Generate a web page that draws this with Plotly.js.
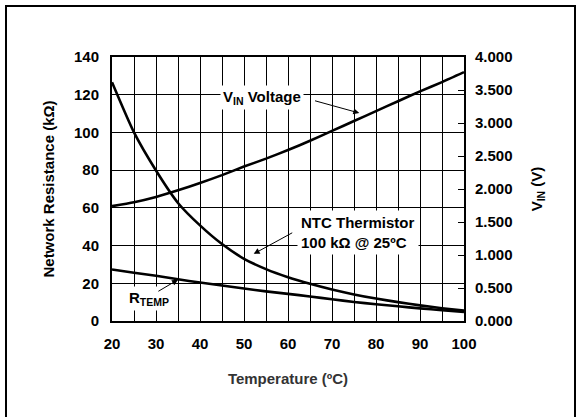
<!DOCTYPE html>
<html>
<head>
<meta charset="utf-8">
<script src="https://cdn.plot.ly/plotly-3.0.1.min.js"></script>
<style>
  html, body { margin: 0; padding: 0; background: #fff; }
  #wrap { position: relative; width: 579px; height: 417px; overflow: hidden; }
  #chart { position: absolute; left: 0; top: 0; width: 579px; height: 417px; }
  #frame { position: absolute; left: 5px; top: 5px; width: 567px; height: 430px;
           border: 2px solid #000; pointer-events: none; }
</style>
</head>
<body>
<div id="wrap">
  <div id="chart"></div>
  <div id="frame"></div>
</div>
<script>
// Temperature (ºC)
const temperature = [20, 25, 30, 35, 40, 45, 50, 55, 60, 65, 70, 75, 80, 85, 90, 95, 100];
// NTC thermistor resistance (kΩ)
const ntcResistance = [126.6, 100, 79.8, 62.6, 50.7, 40.8, 33.0, 27.5, 23.2, 19.7, 16.7, 14.1, 11.9, 10.0, 8.3, 6.8, 5.5];
// R_TEMP network resistance (kΩ)
const rTemp = [27.3, 25.6, 24.0, 22.1, 20.4, 18.8, 17.2, 15.7, 14.4, 13.0, 11.5, 10.1, 8.9, 7.8, 6.7, 5.7, 4.8];
// V_IN voltage (V)
const vIn = [1.74, 1.80, 1.88, 1.98, 2.09, 2.21, 2.34, 2.46, 2.59, 2.73, 2.88, 3.03, 3.18, 3.33, 3.48, 3.62, 3.77];

const xTicks = [20, 30, 40, 50, 60, 70, 80, 90, 100];
const yTicks = [0, 20, 40, 60, 80, 100, 120, 140];
const y2Ticks = [0, 0.5, 1, 1.5, 2, 2.5, 3, 3.5, 4];
const y2TickText = ['0.000', '0.500', '1.000', '1.500', '2.000', '2.500', '3.000', '3.500', '4.000'];

const FONT = 'Liberation Sans, Arial, Helvetica, sans-serif';
const lineStyle = { color: '#000', width: 2.6, shape: 'spline', smoothing: 0.6 };

const traces = [
  { x: temperature, y: ntcResistance, type: 'scatter', mode: 'lines', line: lineStyle, name: 'NTC Thermistor', yaxis: 'y' },
  { x: temperature, y: rTemp, type: 'scatter', mode: 'lines', line: lineStyle, name: 'RTEMP', yaxis: 'y' },
  { x: temperature, y: vIn, type: 'scatter', mode: 'lines', line: lineStyle, name: 'VIN', yaxis: 'y2' }
];

const annFont = { family: FONT, size: 15, color: '#000', weight: 'bold' };

const layout = {
  width: 579, height: 417, autosize: false,
  margin: { l: 112, r: 115, t: 57, b: 96, pad: 0 },
  paper_bgcolor: '#fff', plot_bgcolor: '#fff',
  showlegend: false,
  font: { family: FONT, size: 15, color: '#000' },
  xaxis: {
    range: [20, 100], tickvals: xTicks, ticktext: xTicks.map(String),
    showgrid: true, gridcolor: '#000', gridwidth: 1,
    minor: { dtick: 5, tick0: 0, showgrid: true, gridcolor: '#000', gridwidth: 1 },
    showline: true, linecolor: '#000', linewidth: 2, mirror: true,
    ticks: '', zeroline: false, fixedrange: true,
    tickfont: { family: FONT, size: 15, color: '#000', weight: 'bold' },
    ticklabelstandoff: 8,
    title: { text: 'Temperature (ºC)', font: { family: FONT, size: 15, color: '#333', weight: 'bold' }, standoff: 22 }
  },
  yaxis: {
    range: [0, 140], tickvals: yTicks, ticktext: yTicks.map(String),
    showgrid: true, gridcolor: '#000', gridwidth: 1,
    showline: true, linecolor: '#000', linewidth: 2,
    ticks: '', zeroline: false, fixedrange: true,
    tickfont: { family: FONT, size: 15, color: '#000', weight: 'bold' },
    ticklabelstandoff: 8,
    title: { text: 'Network Resistance (kΩ)', font: { family: FONT, size: 15, color: '#000', weight: 'bold' }, standoff: 16 }
  },
  yaxis2: {
    overlaying: 'y', side: 'right',
    range: [0, 4], tickvals: y2Ticks, ticktext: y2TickText,
    showgrid: false, showline: true, linecolor: '#000', linewidth: 2,
    ticks: 'inside', ticklen: 6, tickwidth: 1, tickcolor: '#000',
    zeroline: false, fixedrange: true,
    tickfont: { family: FONT, size: 15, color: '#000', weight: 'bold' },
    ticklabelstandoff: 6,
    title: { text: 'V<sub>IN</sub> (V)', font: { family: FONT, size: 15, color: '#000', weight: 'bold' }, standoff: 20 }
  },
  annotations: [
    { xref: 'x', yref: 'y', x: 54.2, y: 118.6, text: 'V<sub>IN</sub> Voltage', showarrow: false,
      font: annFont, bgcolor: '#fff', borderpad: 2 },
    { xref: 'x', yref: 'y', axref: 'x', ayref: 'y', x: 76.2, y: 110.3, ax: 65.8, ay: 117.0, text: '',
      showarrow: true, arrowhead: 2, arrowsize: 1.2, arrowwidth: 1, arrowcolor: '#000' },
    { xref: 'x', yref: 'y', x: 76.0, y: 47.0, text: 'NTC Thermistor<br>100 kΩ @ 25ºC', showarrow: false,
      align: 'left', font: annFont, bgcolor: '#fff', borderpad: 3 },
    { xref: 'x', yref: 'y', axref: 'x', ayref: 'y', x: 52.2, y: 35.6, ax: 61.3, ay: 47.2, text: '',
      showarrow: true, arrowhead: 2, arrowsize: 1.2, arrowwidth: 1, arrowcolor: '#000' },
    { xref: 'x', yref: 'y', x: 28.3, y: 11.9, text: 'R<sub>TEMP</sub>', showarrow: false,
      font: annFont, bgcolor: '#fff', borderpad: 2 },
    { xref: 'x', yref: 'y', axref: 'x', ayref: 'y', x: 35.0, y: 21.9, ax: 30.2, ay: 15.3, text: '',
      showarrow: true, arrowhead: 2, arrowsize: 1.2, arrowwidth: 1, arrowcolor: '#000' }
  ]
};

Plotly.newPlot('chart', traces, layout, { staticPlot: true, displayModeBar: false });
</script>
</body>
</html>
